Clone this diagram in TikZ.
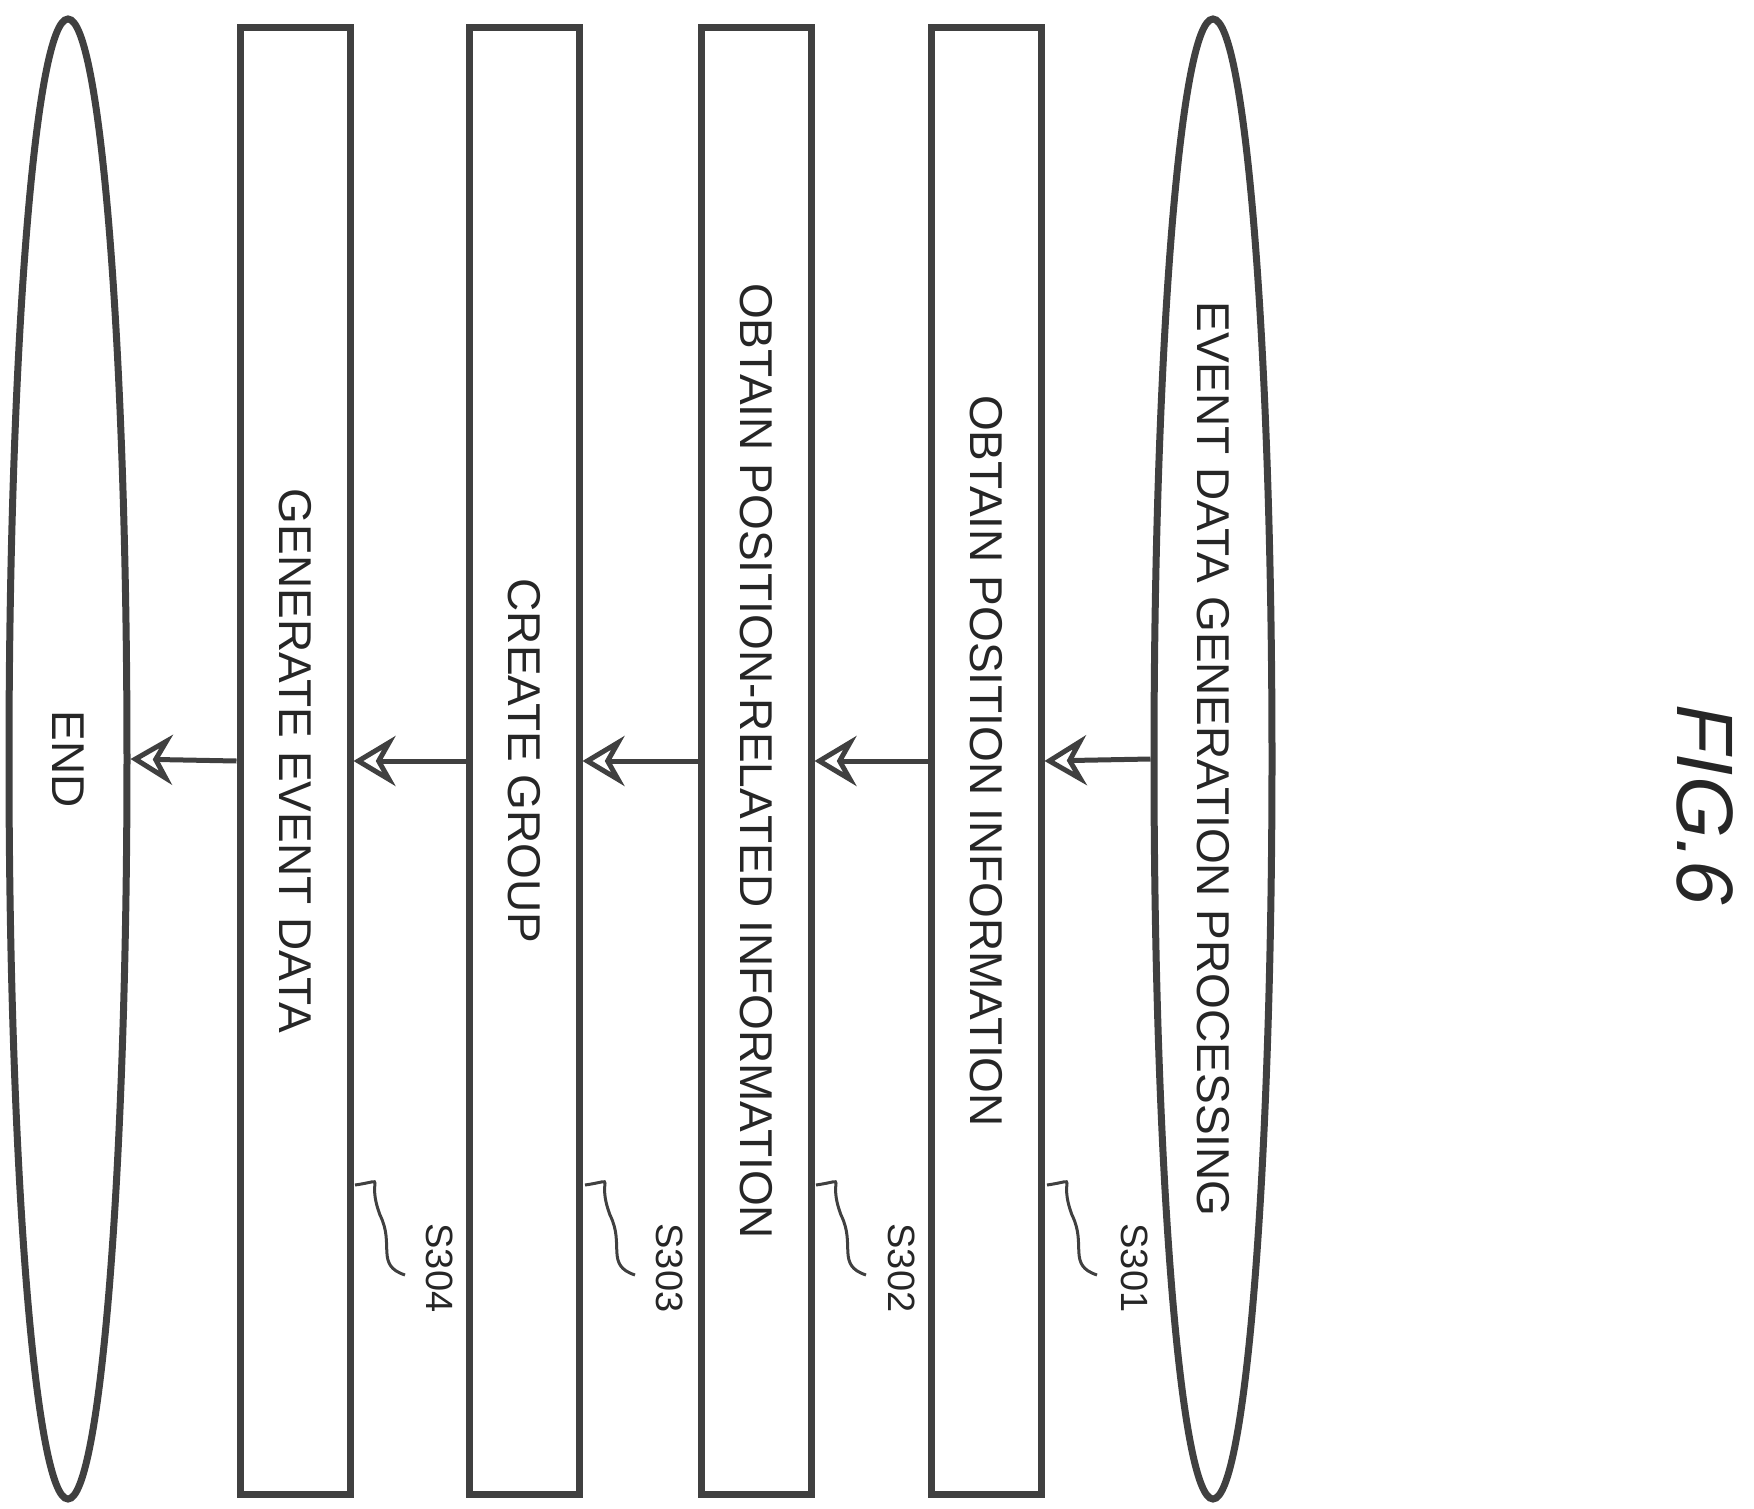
\documentclass[tikz,border=0pt]{standalone}
\usepackage{fontspec}
\setmainfont{Liberation Sans}
\usetikzlibrary{shapes.geometric,arrows.meta}
\begin{document}
\begin{tikzpicture}[x=1pt,y=-1pt,
  ln/.style={draw=black!75,line width=7pt},
  stepbox/.style={ln,rectangle,minimum width=1467pt,minimum height=110pt,rotate=-90,inner sep=0pt},
  term/.style={ln,ellipse,minimum width=1480pt,minimum height=118pt,rotate=-90,inner sep=0pt},
  txt/.style={font=\fontsize{46}{46}\selectfont,text=black!85},
  lab/.style={font=\fontsize{38}{38}\selectfont,text=black!85,rotate=-90},
  arr/.style={draw=black!75,line width=5pt,-{Stealth[length=42pt,width=50pt,open,inset=14pt]}},
  sq/.style={draw=black!75,line width=3pt}]
\useasboundingbox (0,0) rectangle (1754,1509);
\node[term] (s) at (1213,759) {};
\node[txt,rotate=-90] at (s.center) {EVENT DATA GENERATION PROCESSING};
\node[stepbox] (b1) at (986,761) {};
\node[txt,rotate=-90] at (b1.center) {OBTAIN POSITION INFORMATION};
\node[stepbox] (b2) at (756,761) {};
\node[txt,rotate=-90] at (b2.center) {OBTAIN POSITION-RELATED INFORMATION};
\node[stepbox] (b3) at (524,761) {};
\node[txt,rotate=-90] at (b3.center) {CREATE GROUP};
\node[stepbox] (b4) at (295,761) {};
\node[txt,rotate=-90] at (b4.center) {GENERATE EVENT DATA};
\node[term] (e) at (68,759) {};
\node[txt,rotate=-90] at (e.center) {END};
\draw[arr] (s.south) -- (b1.north);
\draw[arr] (b1.south) -- (b2.north);
\draw[arr] (b2.south) -- (b3.north);
\draw[arr] (b3.south) -- (b4.north);
\draw[arr] (b4.south) -- (e.north);
\node[lab] (l1) at (1135,1268) {S301};
\node[lab] (l2) at (902,1268) {S302};
\node[lab] (l3) at (670,1268) {S303};
\node[lab] (l4) at (440,1268) {S304};
\foreach \x in {1047,816,585,355}{
  \coordinate (a) at (\x,1185);
  \draw[sq] (a) .. controls ++(35,-5) and ++(-15,-40) .. ++(25,30) .. controls ++(15,30) and ++(-30,-10) .. ++(25,60);
}
\node[font=\itshape\fontsize{80}{80}\selectfont,text=black!85,rotate=-90] (fig) at (1705,805) {FIG.6};
\end{tikzpicture}
\end{document}
